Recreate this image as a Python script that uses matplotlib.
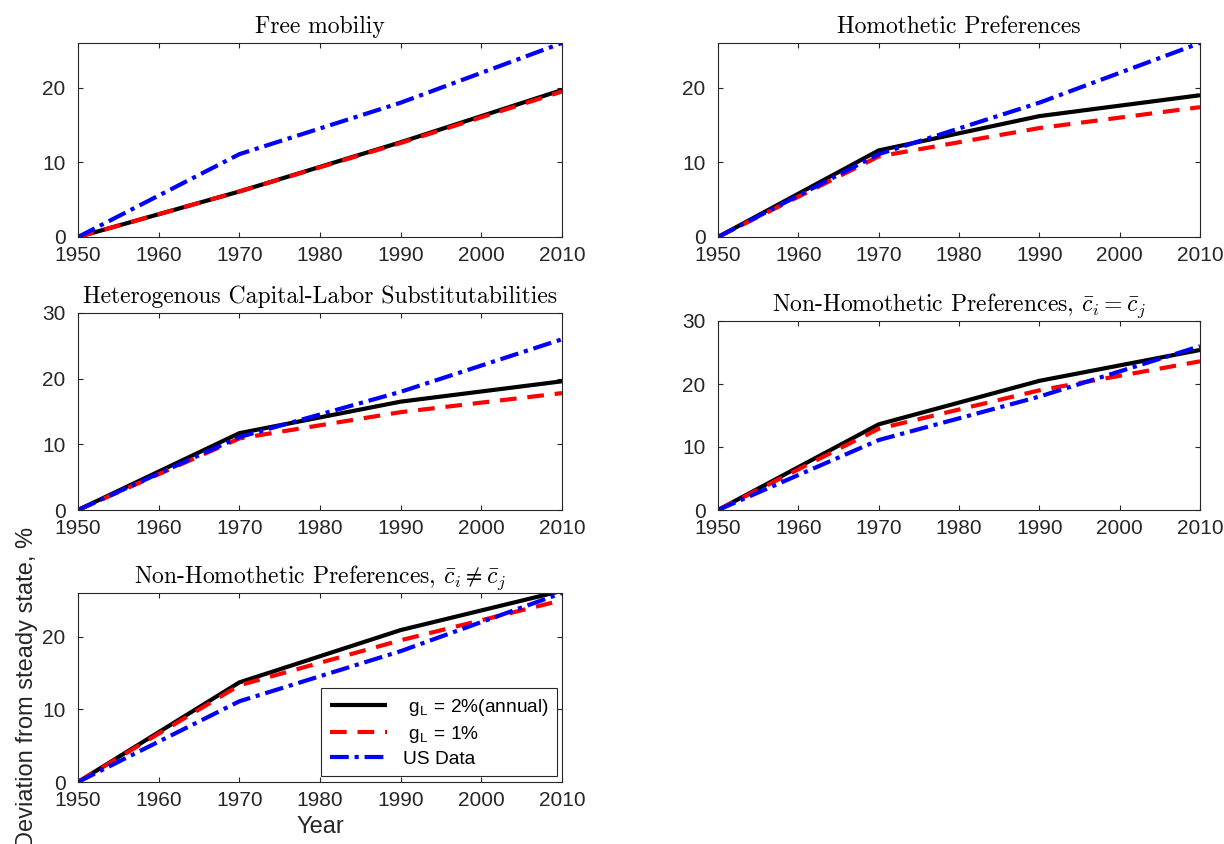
import matplotlib
matplotlib.use("Agg")
import matplotlib.pyplot as plt

plt.rcParams['font.family'] = ['Liberation Sans', 'DejaVu Sans']
plt.rcParams['mathtext.fontset'] = 'cm'

years = [1950, 1970, 1990, 2010]
us_data = [0.0, 11.1, 18.0, 26.0]

titles = [
    'Free mobiliy',
    'Homothetic Preferences',
    'Heterogenous Capital-Labor Substitutabilities',
    r'Non-Homothetic Preferences, $\bar{c}_i = \bar{c}_j$',
    r'Non-Homothetic Preferences, $\bar{c}_i \neq \bar{c}_j$',
]

gl2_free = [0.0, 6.1, 12.7, 19.7]
gl1_free = [0.0, 6.1, 12.6, 19.5]
gl2_homo = [0.0, 11.6, 16.2, 19.0]
gl1_homo = [0.0, 10.8, 14.6, 17.4]
gl2_hetero = [0.0, 11.7, 16.5, 19.6]
gl1_hetero = [0.0, 10.9, 14.9, 17.8]
gl2_nh_eq = [0.0, 13.6, 20.5, 25.4]
gl1_nh_eq = [0.0, 12.9, 19.0, 23.6]
gl2_nh_neq = [0.0, 13.7, 20.9, 26.3]
gl1_nh_neq = [0.0, 13.3, 19.5, 25.0]

gl2_series = [gl2_free, gl2_homo, gl2_hetero, gl2_nh_eq, gl2_nh_neq]
gl1_series = [gl1_free, gl1_homo, gl1_hetero, gl1_nh_eq, gl1_nh_neq]
ytops = [26, 26, 30, 30, 26]

legend_labels = [r' g$_\mathregular{L}$ = 2%(annual)', r' g$_\mathregular{L}$ = 1%', 'US Data']
xticks = [1950, 1960, 1970, 1980, 1990, 2000, 2010]

W, H = 1224, 844
# axes boxes in pixels: left, top, right, bottom
boxes = [
    (78, 43, 562, 237),
    (718, 43, 1200, 237),
    (78, 313, 562, 510),
    (718, 321, 1200, 510),
    (78, 593, 562, 782),
]

fig = plt.figure(figsize=(W / 100, H / 100), dpi=100)
axc = '#262626'
lw = 3.0
axes = []
for i, (l, t, r, b) in enumerate(boxes):
    ax = fig.add_axes([l / W, 1 - b / H, (r - l) / W, (b - t) / H])
    axes.append(ax)
    h1, = ax.plot(years, gl2_series[i], color='black', lw=lw, solid_capstyle='butt')
    h2, = ax.plot(years, gl1_series[i], color='red', lw=lw, dashes=(4.0, 2.6))
    h3, = ax.plot(years, us_data, color='blue', lw=lw, dashes=(4.5, 1.4, 1.0, 1.4))
    ax.set_xlim(1950, 2010)
    ax.set_ylim(0, ytops[i])
    ax.set_xticks(xticks)
    ax.set_yticks([0, 10, 20, 30] if ytops[i] == 30 else [0, 10, 20])
    ax.tick_params(direction='in', top=True, right=True, length=3.6, width=0.8,
                   labelsize=15, colors=axc, labelcolor=axc)
    ax.tick_params(axis='x', pad=6.5)
    ax.tick_params(axis='y', pad=9)
    for s in ax.spines.values():
        s.set_color(axc)
        s.set_linewidth(0.8)
    ax.set_title(titles[i], fontsize=17, family='cmr10', math_fontfamily='cm',
                 pad=7.5, color='black')
    if i == 4:
        leg = ax.legend([h1, h2, h3], legend_labels, loc='lower right',
                        bbox_to_anchor=(0.99, 0.03), borderaxespad=0,
                        fontsize=13.8, fancybox=False, framealpha=1,
                        edgecolor=axc, handlelength=3.0, handletextpad=0.8,
                        labelspacing=0.3, borderpad=0.45)
        leg.get_frame().set_linewidth(0.8)
        ax.set_xlabel('Year', fontsize=17, color=axc, labelpad=4)
        ax.set_ylabel('Deviation from steady state, %', fontsize=17, color=axc)
        ax.yaxis.set_label_coords(-0.082, 0.5)

fig.savefig('out.png', dpi=100)
